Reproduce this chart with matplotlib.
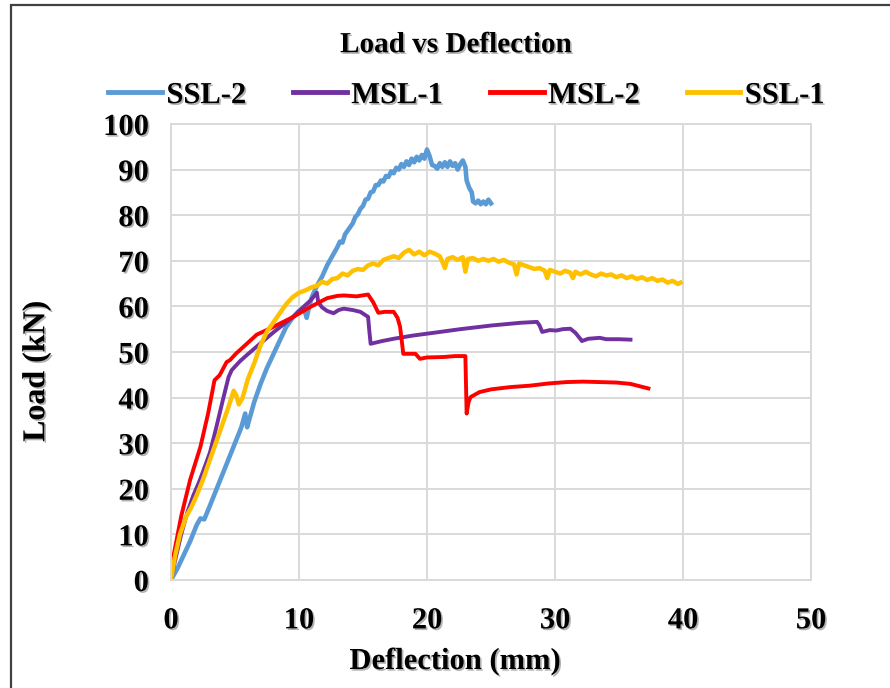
import numpy as np
import matplotlib.pyplot as plt
import matplotlib.patheffects as pe
from matplotlib.patches import Rectangle

# load-deflection readings (mm, kN)
ssl2_x = [0, 0.5, 1.0, 1.5, 2.0, 2.3, 2.6, 3.0, 3.5, 4.0, 4.5, 5.0, 5.5, 5.8, 5.95, 6.1,
          6.5, 7.0, 7.5, 8.0, 8.5, 9.0, 9.5, 10.0, 10.4, 10.6, 10.8, 11.0, 11.4, 11.8,
          12.2, 12.6, 13.0, 13.2, 13.4, 13.6, 13.8, 14.0, 14.2, 14.4, 14.6, 14.8, 15.0,
          15.2, 15.4, 15.6, 15.8, 16.0, 16.2, 16.4, 16.6, 16.8, 17.0, 17.2, 17.4, 17.6,
          17.8, 18.0, 18.2, 18.4, 18.6, 18.8, 19.0, 19.2, 19.4, 19.6, 19.8, 20.0, 20.2,
          20.4, 20.6, 20.8, 21.0, 21.2, 21.4, 21.6, 21.8, 22.0, 22.2, 22.4, 22.6, 22.8,
          23.0, 23.1, 23.3, 23.5, 23.6, 23.8, 24.0, 24.2, 24.4, 24.6, 24.8, 25.0]
ssl2_y = [0, 2.5, 5.5, 8.5, 12.0, 13.5, 13.3, 16.0, 19.5, 23.0, 26.5, 30.0, 33.5, 36.5, 33.5, 35.0,
          39.0, 43.0, 46.5, 49.5, 52.5, 55.5, 57.5, 59.0, 59.5, 57.5, 60.0, 62.0, 64.5, 66.5,
          69.0, 71.0, 73.0, 74.2, 74.0, 75.8, 76.6, 77.4, 78.2, 79.6, 80.2, 81.4, 82.0,
          83.4, 83.6, 85.0, 85.2, 86.6, 86.6, 87.6, 87.4, 88.6, 88.4, 89.6, 89.2, 90.4,
          90.0, 91.2, 90.6, 91.8, 91.0, 92.4, 91.6, 92.8, 92.0, 93.2, 92.4, 94.4, 93.0,
          91.0, 90.8, 90.2, 91.4, 90.6, 91.6, 90.6, 91.8, 90.8, 91.4, 90.0, 91.2, 92.0,
          90.6, 87.6, 86.0, 85.0, 83.0, 82.6, 83.2, 82.4, 83.0, 82.4, 83.4, 82.6]

msl1_x = [0, 0.3, 0.8, 1.3, 1.74, 2.2, 2.6, 3.05, 3.5, 4.1, 4.5, 4.74, 5.0, 5.4, 6.0, 6.95,
          8.0, 9.0, 9.55, 10.2, 10.9, 11.4, 11.5, 11.8, 12.2, 12.7, 13.1, 13.5, 14.2, 14.8,
          15.4, 15.5, 15.6, 16.5, 17.4, 18.9, 20.5, 22.6, 25.0, 27.3, 28.6, 28.8, 29.0,
          29.6, 30.1, 30.6, 31.2, 31.6, 32.0, 32.1, 32.6, 33.5, 34.0, 35.0, 35.9]
msl1_y = [0, 4.0, 10.0, 15.0, 18.5, 21.5, 24.5, 28.0, 33.0, 40.0, 44.5, 46.0, 46.8, 48.0, 49.5, 51.8,
          54.3, 56.5, 57.7, 59.5, 61.3, 63.0, 61.0, 59.8, 59.0, 58.5, 59.2, 59.5, 59.2, 58.8,
          57.7, 54.5, 51.8, 52.4, 52.9, 53.6, 54.2, 55.0, 55.8, 56.4, 56.6, 55.8, 54.4,
          54.8, 54.7, 55.0, 55.1, 54.2, 52.8, 52.4, 52.9, 53.1, 52.8, 52.8, 52.7]

msl2_x = [0, 0.18, 0.8, 1.5, 2.3, 2.9, 3.4, 3.8, 4.35, 4.6, 5.1, 5.65, 6.7, 8.0, 9.55, 10.9,
          12.2, 13.0, 13.5, 14.5, 15.4, 15.8, 16.2, 16.7, 17.4, 17.7, 17.9, 18.15, 19.1,
          19.45, 20.0, 21.3, 22.2, 23.0, 23.1, 23.25, 23.4, 24.1, 25.0, 26.5, 28.0, 29.5,
          30.9, 32.2, 33.5, 34.8, 35.9, 36.6, 37.3]
msl2_y = [0, 5.0, 14.0, 22.0, 29.2, 36.5, 43.8, 44.9, 47.8, 48.2, 49.7, 51.1, 53.8, 55.5, 57.7, 59.9,
          61.8, 62.3, 62.4, 62.2, 62.6, 60.9, 58.6, 58.8, 58.8, 57.5, 55.5, 49.6, 49.6,
          48.5, 48.8, 48.9, 49.1, 49.1, 36.5, 39.0, 40.1, 41.2, 41.8, 42.3, 42.6, 43.1,
          43.4, 43.5, 43.4, 43.3, 43.0, 42.5, 42.0]

ssl1_x = [0, 0.3, 0.7, 1.2, 1.6, 2.0, 2.5, 3.0, 3.5, 4.0, 4.5, 4.9, 5.1, 5.3, 5.6, 6.0, 6.5,
          7.0, 7.5, 8.0, 8.5, 9.0, 9.5, 10.0, 10.5, 11.0, 11.4, 11.8, 12.2, 12.6, 13.0, 13.4,
          13.8, 14.2, 14.6, 15.0, 15.4, 15.8, 16.2, 16.6, 17.0, 17.4, 17.8, 18.2, 18.6, 19.0,
          19.4, 19.8, 20.2, 20.6, 21.0, 21.2, 21.4, 21.6, 22.0, 22.4, 22.8, 23.0, 23.2, 23.6,
          24.0, 24.4, 24.8, 25.2, 25.6, 26.0, 26.4, 26.8, 27.0, 27.2, 27.6, 28.0, 28.4, 28.8,
          29.2, 29.4, 29.6, 30.0, 30.4, 30.8, 31.2, 31.4, 31.6, 32.0, 32.4, 32.8, 33.2, 33.6,
          34.0, 34.4, 34.8, 35.2, 35.6, 36.0, 36.4, 36.8, 37.2, 37.6, 38.0, 38.4, 38.8, 39.2,
          39.6, 39.8]
ssl1_y = [0, 5.0, 10.0, 14.0, 16.0, 18.5, 22.0, 26.0, 30.0, 34.0, 38.0, 41.5, 40.5, 38.5, 40.0, 44.0, 47.5,
          51.5, 54.5, 56.5, 58.5, 60.5, 62.0, 63.0, 63.5, 64.2, 64.5, 65.4, 65.0, 66.0, 66.2, 67.2,
          66.8, 67.8, 68.2, 68.0, 69.0, 69.4, 69.0, 70.2, 70.6, 71.0, 70.6, 71.8, 72.4, 71.4,
          72.0, 71.2, 72.0, 71.6, 71.0, 69.8, 68.4, 70.4, 70.8, 70.2, 70.8, 67.6, 70.4, 70.6,
          70.0, 70.4, 70.0, 70.4, 69.8, 70.2, 69.6, 69.2, 67.0, 69.4, 69.0, 68.6, 68.2, 68.4,
          67.8, 66.2, 68.0, 67.6, 67.2, 67.8, 67.4, 66.2, 67.6, 67.0, 67.6, 67.0, 66.6, 67.2,
          66.8, 67.0, 66.4, 66.8, 66.2, 66.6, 66.0, 66.4, 65.8, 66.2, 65.6, 65.9, 65.2, 65.6,
          64.9, 65.2]

# name, x, y, colour, line width
series = [('SSL-2', ssl2_x, ssl2_y, '#5B9BD5', 3.3),
          ('MSL-1', msl1_x, msl1_y, '#7030A0', 2.8),
          ('MSL-2', msl2_x, msl2_y, '#FF0000', 2.8),
          ('SSL-1', ssl1_x, ssl1_y, '#FFC000', 3.2)]

x_ticks = [0, 10, 20, 30, 40, 50]
y_ticks = [0, 10, 20, 30, 40, 50, 60, 70, 80, 90, 100]

plt.rcParams['font.family'] = ['Liberation Serif', 'DejaVu Serif']
plt.rcParams['font.weight'] = 'bold'

shadow = [pe.SimplePatchShadow(offset=(1.2, -1.2), shadow_rgbFace='#7f7f7f', alpha=0.6), pe.Normal()]

fig = plt.figure(figsize=(8.9, 6.88), dpi=100)
ax = fig.add_axes([0.1921, 0.157, 0.7191, 0.6628])

for name, xs, ys, col, lw in series:
    ax.plot(xs, ys, color=col, lw=lw, label=name, solid_joinstyle='round')

ax.set_xlim(0, 50)
ax.set_ylim(0, 100)
ax.set_xticks(x_ticks)
ax.set_yticks(y_ticks)
ax.grid(True, color='#D9D9D9', lw=1.4)
ax.set_axisbelow(True)
for s in ax.spines.values():
    s.set_color('#D9D9D9')
    s.set_linewidth(1.4)
ax.tick_params(length=0, labelsize=22)
ax.tick_params(axis='y', pad=16)
ax.tick_params(axis='x', pad=19)
for lbl in ax.get_xticklabels() + ax.get_yticklabels():
    lbl.set_fontweight('bold')
    lbl.set_path_effects(shadow)

ax.set_xlabel('Deflection (mm)', fontsize=22, fontweight='bold', path_effects=shadow)
ax.xaxis.set_label_coords(0.444, -0.147)
ax.set_ylabel('Load (kN)', fontsize=23, fontweight='bold', path_effects=shadow)
ax.yaxis.set_label_coords(-0.187, 0.458)

fig.text(0.512, 0.935, 'Load vs Deflection', ha='center', va='center',
         fontsize=21, fontweight='bold', path_effects=shadow)

leg = fig.legend(loc='center', bbox_to_anchor=(0.524, 0.861), ncol=4, frameon=False,
                 handlelength=1.75, handletextpad=0.15, columnspacing=1.55,
                 prop={'weight': 'bold', 'size': 22})
for t in leg.get_texts():
    t.set_path_effects(shadow)
for h in leg.legend_handles:
    h.set_linewidth(3.5)

# outer chart frame
fig.patches.append(Rectangle((11 / 890, -0.05), 1.2, 1.05 - 5.5 / 688,
                             transform=fig.transFigure, fill=False,
                             edgecolor='#404040', lw=1.6))

fig.savefig('out.png', dpi=100)
